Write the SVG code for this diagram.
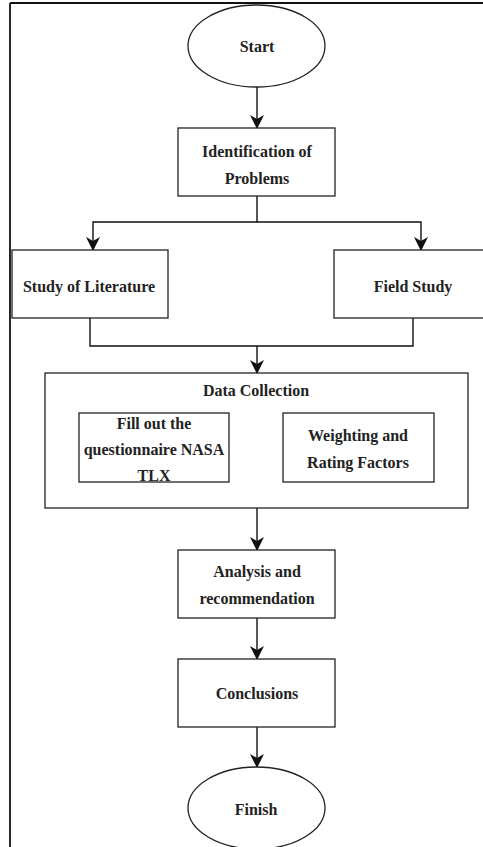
<svg xmlns="http://www.w3.org/2000/svg" width="483" height="847" viewBox="0 0 483 847">
<style>
.box{fill:#fff;stroke:#222;stroke-width:1.3}
.t{font-family:"Liberation Serif","DejaVu Serif","Times New Roman",serif;font-weight:bold;font-size:16px;fill:#222;text-anchor:middle}
.c{fill:none;stroke:#111;stroke-width:1.4}
</style>
<defs>
<marker id="ah" markerWidth="14" markerHeight="14" refX="13" refY="7" orient="auto" markerUnits="userSpaceOnUse" viewBox="0 0 14 14">
<path d="M0,0 L14,7 L0,14 L4,7 Z" fill="#111"/>
</marker>
</defs>
<rect width="483" height="847" fill="#fff"/>
<g id="frame">
<line x1="10" y1="3" x2="483" y2="3" stroke="#111" stroke-width="2"/>
<line x1="10" y1="3" x2="10" y2="847" stroke="#111" stroke-width="1.8"/>
</g>
<g id="connectors">
<line class="c" x1="257" y1="87" x2="257" y2="128" marker-end="url(#ah)"/>
<polyline class="c" points="257,196 257,222 93,222 93,250" marker-end="url(#ah)"/>
<polyline class="c" points="257,222 421,222 421,250" marker-end="url(#ah)"/>
<polyline class="c" points="90,318 90,346 413,346 413,318"/>
<line class="c" x1="257" y1="346" x2="257" y2="373" marker-end="url(#ah)"/>
<line class="c" x1="229" y1="448" x2="283" y2="448" marker-end="url(#ah)"/>
<line class="c" x1="257" y1="508" x2="257" y2="550" marker-end="url(#ah)"/>
<line class="c" x1="257" y1="618" x2="257" y2="659" marker-end="url(#ah)"/>
<line class="c" x1="257" y1="727" x2="257" y2="767" marker-end="url(#ah)"/>
</g>
<g id="start">
<ellipse class="box" cx="256.5" cy="46" rx="68.5" ry="41"/>
<text class="t" x="257" y="52">Start</text>
</g>
<g id="identification">
<rect class="box" x="178" y="128" width="157" height="68"/>
<text class="t" x="257" y="157">Identification of</text>
<text class="t" x="257" y="184">Problems</text>
</g>
<g id="literature">
<rect class="box" x="12" y="250" width="156" height="68"/>
<text class="t" x="89" y="292">Study of Literature</text>
</g>
<g id="field">
<rect class="box" x="334" y="250" width="160" height="68"/>
<text class="t" x="413" y="292">Field Study</text>
</g>
<g id="datacollection">
<rect class="box" x="45" y="373" width="423" height="135"/>
<text class="t" x="256" y="396">Data Collection</text>
</g>
<g id="fillout">
<rect class="box" x="79" y="413" width="150" height="69"/>
<text class="t" x="154" y="429">Fill out the</text>
<text class="t" x="154" y="455">questionnaire NASA</text>
<text class="t" x="154" y="481">TLX</text>
</g>
<g id="weighting">
<rect class="box" x="283" y="413" width="151" height="69"/>
<text class="t" x="358" y="441">Weighting and</text>
<text class="t" x="358" y="468">Rating Factors</text>
</g>
<g id="analysis">
<rect class="box" x="178" y="550" width="157" height="68"/>
<text class="t" x="257" y="577">Analysis and</text>
<text class="t" x="257" y="604">recommendation</text>
</g>
<g id="conclusions">
<rect class="box" x="178" y="659" width="157" height="68"/>
<text class="t" x="257" y="699">Conclusions</text>
</g>
<g id="finish">
<ellipse class="box" cx="256.5" cy="808" rx="68.5" ry="41"/>
<text class="t" x="256" y="815">Finish</text>
</g>
</svg>
